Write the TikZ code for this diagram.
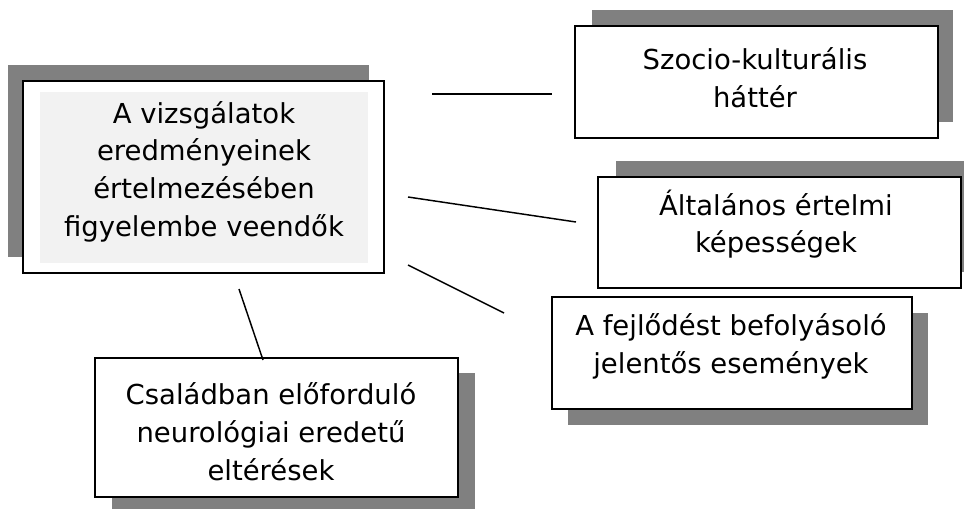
\documentclass[tikz,border=0pt]{standalone}
\usepackage{fontspec}
\setmainfont{DejaVu Sans}
\definecolor{shadowgray}{RGB}{128,128,128}
\definecolor{innergray}{RGB}{242,242,242}
\begin{document}
\begin{tikzpicture}[x=0.75pt,y=-0.75pt,
  boxstyle/.style={draw=black,fill=white,line width=1.5pt,inner sep=0pt,outer sep=0pt},
  shadowstyle/.style={fill=shadowgray,draw=none,inner sep=0pt,outer sep=0pt},
  txt/.style={align=center,inner sep=0pt,font=\fontsize{20.6}{28.3}\selectfont},
  conn/.style={line width=1.1pt}]
\useasboundingbox (0,0) rectangle (964,508);
% shadows
\fill[shadowgray] (8,65) rectangle (369,257);
\fill[shadowgray] (592,10) rectangle (953,122);
\fill[shadowgray] (616,161) rectangle (979,272);
\fill[shadowgray] (568,313) rectangle (928,425);
\fill[shadowgray] (112,373) rectangle (475,512);
% boxes
\node[boxstyle,minimum width={361*0.75pt},minimum height={192*0.75pt}] (main) at (203.5,177) {};
\node[fill=innergray,inner sep=0pt,minimum width={328*0.75pt},minimum height={171*0.75pt}] (maininner) at (204,177.5) {};
\node[txt] (mainT) at (204,171.5) {A vizsgálatok\\eredményeinek\\értelmezésében\\figyelembe veendők};

\node[boxstyle,minimum width={363*0.75pt},minimum height={112*0.75pt}] (szocio) at (756.5,82) {};
\node[txt] (szocioT) at (755,77.5) {Szocio-kulturális\\háttér};

\node[boxstyle,minimum width={363*0.75pt},minimum height={111*0.75pt}] (altal) at (779.5,232.5) {};
\node[txt] (altalT) at (776,224) {Általános értelmi\\képességek};

\node[boxstyle,minimum width={360*0.75pt},minimum height={112*0.75pt}] (fejl) at (732,353) {};
\node[txt] (fejlT) at (731,346.5) {A fejlődést befolyásoló\\jelentős események};

\node[boxstyle,minimum width={363*0.75pt},minimum height={139*0.75pt}] (csal) at (276.5,427.5) {};
\node[txt] (csalT) at (271,431.5) {Családban előforduló\\neurológiai eredetű\\eltérések};

% connectors
\coordinate (l1a) at (432,94); \coordinate (l1b) at (552,94);
\coordinate (l2a) at (408,197); \coordinate (l2b) at (576,222);
\coordinate (l3a) at (408,265); \coordinate (l3b) at (504,313);
\coordinate (l4a) at (239,289); \coordinate (l4b) at (263,360);
\draw[conn] (l1a) -- (l1b);
\draw[conn] (l2a) -- (l2b);
\draw[conn] (l3a) -- (l3b);
\draw[conn] (l4a) -- (l4b);
\end{tikzpicture}
\end{document}
